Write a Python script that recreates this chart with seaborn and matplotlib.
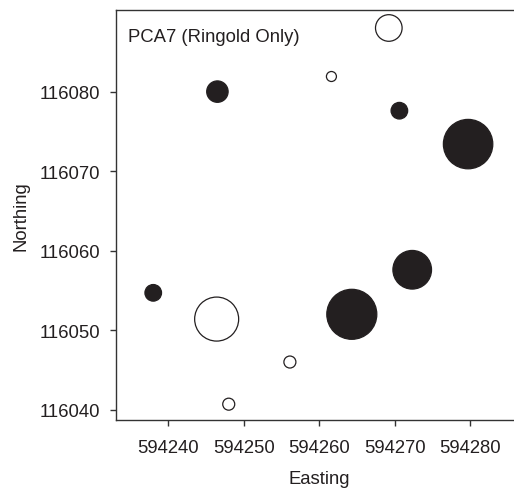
import numpy as np
import pandas as pd
import seaborn as sns
from matplotlib import pyplot as plt

# PCA7 scores at sample locations (sign sets fill, magnitude sets bubble size)
easting = [594269.2, 594246.5, 594261.6, 594270.6, 594279.7, 594238.0,
           594246.4, 594256.1, 594248.0, 594264.3, 594272.3]
northing = [116088.0, 116080.0, 116081.9, 116077.6, 116073.4, 116054.7,
            116051.4, 116046.0, 116040.7, 116052.0, 116057.6]
score = [-1.33, 1.07, -0.50, 0.83, 2.47, 0.83, -2.20, -0.60, -0.60, 2.50, 1.93]
x_ticks = [594240, 594250, 594260, 594270, 594280]
y_ticks = [116040, 116050, 116060, 116070, 116080]

df = pd.DataFrame({"Easting": easting, "Northing": northing, "score": score})
df["sign"] = np.where(df["score"] > 0, "pos", "neg")
df["area"] = df["score"] ** 2

sns.set_style("ticks")
plt.rcParams["font.family"] = ["Liberation Sans", "DejaVu Sans"]
ink = "#231f20"
fs = 13.3

fig = plt.figure(figsize=(5.14, 4.89), dpi=100)
ax = fig.add_axes([0.2257, 0.1397, 0.7922, 0.8368])

max_area = df["area"].max()
sns.scatterplot(
    data=df,
    x="Easting",
    y="Northing",
    hue="sign",
    palette={"pos": ink, "neg": "white"},
    size="area",
    sizes=(0, 207.4 * max_area),
    size_norm=(0, max_area),
    edgecolor=ink,
    linewidth=0.9,
    legend=False,
    ax=ax,
)

ax.set_xlim(594233.07, 594287)
ax.set_ylim(116038.75, 116090.2)
ax.set_xticks(x_ticks)
ax.set_yticks(y_ticks)
ax.ticklabel_format(useOffset=False, style="plain")

for side in ["left", "bottom", "top"]:
    ax.spines[side].set_color("#333333")
    ax.spines[side].set_linewidth(1.0)
ax.spines["right"].set_visible(False)

ax.tick_params(axis="both", length=4.5, width=1.0, color="#333333",
               labelsize=fs, labelcolor=ink)
ax.tick_params(axis="x", pad=9.5)
ax.tick_params(axis="y", pad=7)

ax.set_xlabel("Easting", fontsize=fs, labelpad=10, color=ink)
ax.set_ylabel("Northing", fontsize=fs, labelpad=7, color=ink)

ax.text(0.030, 0.926, "PCA7 (Ringold Only)", transform=ax.transAxes,
        fontsize=fs, va="baseline", ha="left", color=ink)

plt.savefig("out.png", dpi=100)
